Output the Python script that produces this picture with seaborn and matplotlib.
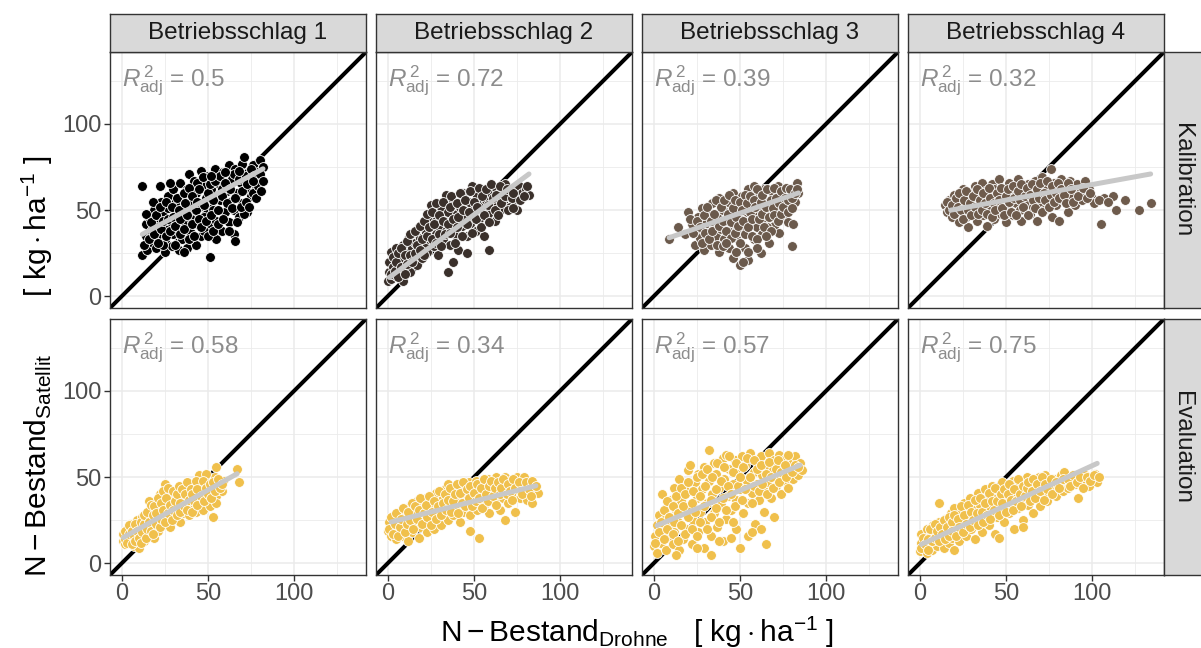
import numpy as np
import pandas as pd
import seaborn as sns
import matplotlib.pyplot as plt
from matplotlib.ticker import FixedLocator

sns.set_theme(style='white')
plt.rcParams['font.family'] = ['Liberation Sans', 'DejaVu Sans']
plt.rcParams['mathtext.fontset'] = 'custom'
plt.rcParams['mathtext.rm'] = 'Liberation Sans'
plt.rcParams['mathtext.it'] = 'Liberation Sans:italic'
plt.rcParams['mathtext.bf'] = 'Liberation Sans:bold'

# ---- data ----------------------------------------------------------------
fields = ['Betriebsschlag 1', 'Betriebsschlag 2', 'Betriebsschlag 3', 'Betriebsschlag 4']
phases = ['Kalibration', 'Evaluation']

r2_kal = ['0.5', '0.72', '0.39', '0.32']
r2_eval = ['0.58', '0.34', '0.57', '0.75']

# regression line end points (x0, y0, x1, y1)
fit_kal = [(12, 36, 82, 74), (1, 11, 82, 71), (9, 34, 84, 60), (18, 50, 134, 71)]
fit_eval = [(1, 15, 67, 52), (2, 24, 86, 45), (2, 22, 85, 57), (1, 11, 103, 58)]

kal_1 = [(12,64),(22,64),(12,24),(15,27),(14,35),(14,42),(16,46),(17,38),(18,31),(19,50),
         (20,28),(21,42),(22,36),(23,55),(24,47),(25,26),(25,32),(26,40),(27,58),(27,51),
         (28,44),(29,29),(30,36),(30,62),(31,54),(32,47),(33,27),(33,40),(34,66),(35,58),
         (35,33),(36,50),(37,43),(38,62),(38,28),(39,71),(40,55),(40,37),(41,48),(42,67),
         (43,30),(43,60),(44,42),(45,52),(46,73),(46,35),(47,64),(48,46),(49,57),(51,23),
         (50,70),(51,40),(52,62),(53,50),(54,74),(55,33),(55,44),(56,66),(57,56),(58,38),
         (59,72),(60,49),(61,61),(62,76),(62,43),(63,55),(64,68),(65,36),(65,50),(66,32),
         (66,74),(67,60),(68,46),(69,66),(70,77),(70,54),(71,81),(72,62),(73,49),(74,70),
         (75,58),(76,76),(77,66),(78,62),(79,72),(80,79),(81,68),(82,75),(71,48),(36,26),
         (20,40),(18,55),(28,66),(24,30),(40,45),(58,62),(48,38),(44,66),
         (13,30),(14,48),(16,33),(17,43),(19,36),(20,47),(21,31),(22,52),(23,39),(24,44),
         (26,35),(26,55),(27,45),(28,38),(29,52),(30,46),(31,30),(31,41),(32,57),(33,50),
         (34,36),(34,45),(36,60),(36,39),(37,54),(38,47),(39,33),(39,63),(41,58),(41,42),
         (42,35),(43,50),(44,55),(45,45),(45,62),(46,40),(47,69),(48,53),(49,44),(50,60),
         (50,35),(51,65),(52,47),(53,56),(53,38),(54,67),(56,50),(56,42),(57,70),(58,58),
         (59,45),(60,66),(61,54),(62,38),(63,62),(64,51),(65,71),(66,57),(67,43),(68,68),
         (69,52),(70,61),(72,70),(72,55),(73,65),(74,52),(75,74),(76,60),(77,70),(78,57),
         (79,64),(80,71),(81,61),(82,67),(76,67),(68,73),(60,72),(52,70)]
kal_2 = [(0,9),(1,14),(1,20),(2,26),(2,10),(3,17),(4,23),(5,12),(5,28),(6,19),
         (7,14),(7,26),(8,22),(9,9),(9,30),(10,17),(11,25),(12,20),(12,33),(13,14),
         (14,28),(15,37),(15,22),(16,31),(17,18),(18,26),(18,40),(19,34),(20,22),(21,30),
         (22,43),(22,37),(23,26),(24,33),(25,53),(25,46),(26,40),(27,29),(28,36),(29,47),
         (29,24),(30,41),(31,52),(32,33),(33,44),(34,59),(34,38),(35,14),(35,49),(36,30),
         (37,43),(38,55),(39,36),(40,48),(41,27),(42,52),(43,41),(44,60),(45,46),(46,25),
         (46,35),(47,55),(48,42),(49,64),(50,50),(51,38),(52,58),(53,45),(54,62),(55,52),
         (56,35),(57,56),(58,48),(59,27),(60,60),(61,53),(62,44),(63,63),(64,57),(65,50),
         (66,61),(67,55),(68,65),(70,58),(71,52),(72,62),(74,56),(75,50),(76,64),(78,60),
         (80,62),(82,59),(38,20),(28,44),
         (2,13),(3,23),(4,15),(5,20),(6,25),(6,11),(8,17),(8,28),(10,24),(10,13),
         (11,32),(11,19),(13,24),(13,36),(14,20),(16,25),(16,38),(17,30),(19,27),(19,41),
         (20,33),(21,24),(21,44),(23,35),(23,48),(24,40),(26,33),(26,49),(27,42),(28,31),
         (28,54),(30,36),(30,47),(31,29),(32,44),(32,55),(33,36),(35,42),(36,52),(36,37),
         (37,58),(38,45),(39,31),(40,54),(40,40),(41,46),(42,60),(43,35),(44,50),(45,56),
         (46,42),(47,49),(48,61),(49,37),(50,55),(51,45),(52,52),(53,63),(54,40),(55,58),
         (56,47),(57,62),(58,53),(59,43),(60,65),(61,57),(62,50),(63,59),(64,47),(65,64),
         (66,54),(68,58),(69,62),(70,50),(72,57),(73,60),(77,56),(79,58),(81,64),(73,51)]
kal_3 = [(9,33),(14,40),(20,49),(18,36),(22,42),(24,30),(25,38),(26,46),(27,34),(28,51),
         (29,27),(30,42),(31,37),(32,48),(33,30),(34,54),(35,41),(36,35),(37,46),(38,57),
         (38,26),(39,39),(40,50),(41,33),(42,44),(43,55),(44,28),(44,38),(45,48),(46,22),
         (46,60),(47,42),(48,34),(49,52),(50,18),(50,45),(51,58),(52,38),(53,28),(54,49),
         (55,62),(55,21),(56,43),(57,54),(58,33),(58,64),(59,47),(60,40),(61,58),(62,25),
         (62,50),(63,36),(64,62),(65,45),(66,55),(67,31),(68,48),(69,60),(70,41),(71,52),
         (72,64),(73,37),(74,56),(75,47),(76,61),(77,52),(78,43),(79,58),(80,29),(81,63),
         (82,55),(83,66),(84,60),(81,42),(66,40),(52,20),
         (21,45),(23,37),(25,44),(27,40),(28,31),(29,47),(30,37),(31,52),(32,33),(33,44),
         (34,38),(35,48),(36,56),(37,30),(38,41),(39,52),(40,44),(40,29),(41,56),(42,38),
         (43,48),(44,59),(45,34),(45,43),(46,51),(47,37),(47,56),(48,46),(49,41),(50,55),
         (50,31),(51,50),(52,44),(53,59),(53,36),(54,54),(55,40),(56,49),(56,58),(57,35),
         (57,45),(58,56),(59,52),(60,62),(60,33),(61,45),(62,55),(63,48),(63,59),(64,40),
         (65,52),(66,62),(67,46),(68,56),(68,38),(69,51),(70,63),(70,47),(71,57),(72,44),
         (73,54),(74,61),(74,48),(75,52),(76,57),(77,63),(78,49),(78,56),(79,62),(80,51),
         (80,57),(82,60),(83,62),(65,35),(60,28),(55,26),(48,26),(42,31)]
kal_4 = [(15,53),(16,49),(17,56),(18,51),(19,46),(20,59),(21,54),(22,48),(23,43),(24,57),
         (25,62),(26,52),(27,46),(28,40),(29,60),(30,55),(31,49),(32,64),(33,44),(34,58),
         (35,52),(36,66),(37,47),(38,61),(39,41),(40,56),(41,50),(42,65),(43,45),(44,60),
         (45,53),(46,68),(47,48),(48,57),(49,63),(50,43),(51,52),(52,66),(53,58),(54,47),
         (55,62),(56,54),(57,68),(58,50),(59,44),(60,60),(62,55),(63,65),(64,48),(65,58),
         (66,52),(67,67),(68,44),(69,61),(70,55),(71,69),(72,50),(74,63),(75,57),(76,74),
         (77,46),(78,66),(79,53),(80,60),(81,44),(82,68),(83,56),(85,63),(86,49),(87,67),
         (88,58),(90,53),(91,65),(93,60),(94,56),(96,67),(98,62),(100,57),(101,54),(105,42),
         (107,57),(112,58),(114,50),(119,56),(127,50),(134,54),(43,62),(27,56),
         (16,55),(17,50),(19,53),(20,48),(21,57),(22,52),(23,60),(24,50),(25,45),(26,56),
         (27,61),(28,50),(29,54),(30,47),(31,58),(32,52),(33,62),(34,48),(35,56),(36,50),
         (37,60),(38,54),(39,48),(40,63),(41,57),(42,46),(43,54),(44,50),(45,60),(46,56),
         (47,63),(48,51),(49,47),(50,58),(51,62),(52,55),(53,49),(54,64),(55,57),(56,47),
         (57,61),(58,56),(59,65),(60,52),(61,58),(62,63),(63,47),(64,59),(65,65),(66,56),
         (67,51),(68,62),(69,57),(70,66),(71,49),(72,60),(73,56),(74,67),(75,52),(76,59),
         (77,64),(78,55),(79,60),(80,66),(81,57),(82,62),(84,59),(85,54),(86,66),(88,62),
         (89,55),(92,58),(95,63),(97,57),(99,60),(104,56),(109,55)]
eval_1 = [(1,13),(1,17),(2,11),(3,15),(3,20),(4,12),(5,18),(5,23),(6,14),(7,21),
          (7,10),(8,17),(9,25),(9,13),(10,20),(10,9),(11,16),(12,27),(12,22),(13,13),
          (14,19),(15,25),(16,36),(16,16),(17,30),(18,22),(19,27),(19,15),(20,33),(21,19),
          (22,25),(22,40),(23,30),(24,22),(25,36),(25,46),(26,27),(27,33),(28,21),(28,41),
          (29,30),(30,37),(31,26),(32,43),(33,32),(34,24),(35,39),(36,29),(36,45),(37,35),
          (38,42),(39,28),(40,38),(41,33),(42,44),(43,30),(44,40),(45,51),(45,35),(46,45),
          (47,31),(48,42),(49,38),(50,47),(51,33),(52,43),(53,27),(54,50),(55,56),(55,39),
          (56,45),(58,42),(59,48),(67,55),(68,47),(49,52),(55,35),
          (2,14),(2,19),(3,12),(4,17),(4,22),(6,19),(6,11),(7,16),(8,13),(8,23),
          (9,19),(10,15),(11,24),(11,12),(12,18),(13,23),(13,28),(14,15),(15,20),(15,30),
          (16,24),(17,19),(17,34),(18,28),(18,17),(19,33),(20,23),(20,29),(21,38),(22,21),
          (23,35),(23,26),(24,31),(24,42),(25,24),(26,38),(27,29),(27,44),(28,34),(29,25),
          (30,42),(30,31),(31,36),(32,28),(32,40),(33,45),(34,35),(34,30),(35,43),(36,33),
          (37,40),(38,31),(38,47),(39,37),(40,43),(41,30),(41,40),(42,36),(43,48),(44,34),
          (44,43),(46,39),(47,48),(48,36),(49,44),(50,40),(51,46),(52,38),(53,47),(54,42),
          (56,49),(57,44),(58,46)]
eval_2 = [(0,19),(1,24),(2,16),(3,21),(4,27),(5,14),(6,19),(7,24),(8,30),(9,16),
          (10,21),(11,27),(12,13),(13,33),(14,18),(15,24),(16,29),(17,36),(18,15),(19,21),
          (20,27),(21,32),(22,38),(23,18),(24,24),(25,30),(26,35),(27,20),(28,41),(29,27),
          (30,33),(31,22),(32,38),(33,29),(34,44),(35,25),(35,46),(36,34),(37,39),(38,28),
          (39,43),(40,32),(41,37),(42,24),(43,45),(44,30),(45,40),(46,35),(47,47),(48,19),
          (48,28),(49,42),(50,37),(51,48),(52,31),(53,15),(53,43),(54,39),(55,47),(56,34),
          (57,44),(58,49),(59,29),(60,40),(61,46),(62,36),(63,50),(64,42),(65,31),(66,47),
          (67,38),(68,50),(68,25),(69,44),(70,35),(71,48),(72,41),(73,46),(74,30),(75,50),
          (76,43),(77,38),(78,47),(79,50),(80,42),(81,37),(82,46),(84,35),(85,44),(87,41),
          (1,20),(2,27),(3,17),(4,23),(5,29),(6,16),(7,21),(8,26),(9,32),(10,18),
          (11,23),(12,30),(13,25),(14,35),(15,20),(16,33),(17,26),(18,31),(19,38),(20,23),
          (21,29),(22,34),(23,27),(24,39),(25,22),(26,30),(27,36),(28,26),(29,33),(30,42),
          (31,28),(32,35),(33,40),(34,31),(35,37),(36,44),(37,30),(38,36),(39,40),(40,46),
          (41,29),(42,41),(43,35),(44,47),(45,33),(46,43),(47,38),(48,45),(49,33),(50,41),
          (51,36),(52,46),(53,38),(54,44),(55,32),(56,49),(57,40),(58,36),(59,45),(60,48),
          (61,39),(62,44),(63,34),(64,47),(65,40),(66,44),(67,49),(69,40),(70,46),(71,42),
          (72,37),(73,49),(74,44),(76,47),(77,42),(78,40),(80,47),(82,43),(83,39),(84,48),
          (86,45)]
eval_3 = [(0,10),(1,16),(2,22),(2,6),(3,28),(4,12),(5,19),(5,40),(6,25),(7,8),
          (7,32),(8,15),(9,21),(10,37),(10,27),(11,11),(12,44),(12,18),(13,31),(14,24),
          (15,8),(15,49),(16,36),(17,14),(18,29),(19,42),(19,20),(20,54),(21,57),(21,33),
          (22,11),(23,25),(24,47),(25,38),(26,18),(26,52),(27,30),(28,43),(29,9),(29,56),
          (30,24),(31,35),(32,66),(32,48),(33,16),(34,40),(35,29),(35,58),(36,52),(37,21),
          (38,44),(39,34),(40,61),(40,13),(41,49),(42,26),(42,63),(43,39),(44,55),(45,31),
          (46,46),(47,60),(48,20),(48,37),(49,52),(50,9),(50,43),(51,62),(52,29),(53,57),
          (54,48),(55,35),(55,16),(56,64),(57,41),(58,53),(59,23),(59,60),(60,46),(61,37),
          (62,62),(63,51),(64,30),(64,42),(65,11),(65,57),(66,47),(67,64),(68,38),(69,54),
          (70,27),(70,60),(71,45),(72,50),(73,63),(74,40),(75,56),(76,48),(77,61),(78,44),
          (79,53),(80,58),(81,49),(82,62),(83,55),(84,51),(85,58),(86,54),(33,5),(13,5),
          (1,12),(3,18),(4,24),(6,14),(6,31),(8,20),(8,36),(9,27),(11,17),(11,33),
          (12,24),(13,39),(14,13),(14,29),(16,22),(16,44),(17,33),(18,17),(18,40),(20,27),
          (20,47),(22,35),(22,20),(23,42),(24,30),(25,50),(25,16),(27,39),(27,24),(28,52),
          (29,33),(30,45),(31,20),(31,55),(33,37),(33,27),(34,50),(36,43),(36,32),(37,58),
          (38,24),(39,48),(40,38),(41,56),(42,31),(43,45),(44,62),(45,40),(46,53),(46,24),
          (47,33),(48,58),(49,45),(50,50),(51,37),(52,56),(53,43),(54,61),(56,50),(57,35),
          (58,60),(58,45),(60,55),(61,42),(62,57),(63,46),(65,52),(66,40),(67,59),(68,50),
          (69,44),(71,55),(72,60),(73,47),(74,53),(76,57),(77,50),(78,63),(80,53),(82,57),
          (84,56),(62,20),(57,18),(45,15),(38,13),(25,9)]
eval_4 = [(0,7),(1,12),(1,17),(2,9),(3,14),(4,6),(4,20),(5,11),(6,16),(7,8),
          (8,22),(8,13),(9,18),(10,10),(11,35),(11,24),(12,15),(13,20),(14,9),(15,26),
          (16,17),(17,12),(18,29),(18,22),(19,15),(20,8),(20,32),(21,25),(22,19),(23,13),
          (24,30),(25,22),(26,35),(27,16),(28,27),(29,38),(30,20),(31,31),(32,14),(33,25),
          (34,41),(35,34),(36,18),(37,28),(38,43),(39,36),(40,22),(41,31),(42,45),(43,38),
          (44,17),(45,27),(46,15),(46,42),(47,33),(48,47),(49,24),(50,38),(51,44),(52,29),
          (53,35),(54,48),(55,20),(56,41),(57,32),(58,46),(59,37),(60,25),(61,43),(62,50),
          (63,34),(64,40),(65,47),(66,29),(67,44),(68,38),(69,50),(70,33),(71,45),(72,41),
          (73,51),(74,36),(75,47),(76,43),(78,49),(79,39),(80,45),(82,51),(83,42),(84,53),
          (85,47),(86,44),(88,50),(90,46),(92,38),(94,48),(96,51),(98,45),(100,49),(102,52),
          (103,47),(60,21),
          (1,9),(2,15),(3,11),(5,14),(5,8),(6,20),(7,13),(9,15),(9,23),(10,19),
          (11,13),(12,21),(13,17),(14,25),(15,14),(16,21),(17,27),(17,16),(19,24),(19,19),
          (20,28),(21,16),(22,26),(23,21),(24,33),(25,18),(26,28),(27,23),(28,34),(29,21),
          (30,30),(31,25),(32,37),(33,29),(34,22),(35,38),(36,30),(37,24),(38,35),(39,28),
          (40,41),(41,26),(42,36),(43,31),(44,44),(45,36),(46,28),(47,40),(48,35),(49,43),
          (50,30),(51,40),(52,46),(53,37),(54,31),(55,43),(56,36),(57,49),(58,40),(59,33),
          (60,45),(61,39),(62,44),(63,47),(64,36),(65,42),(66,49),(67,38),(68,46),(70,42),
          (71,50),(72,37),(73,46),(74,43),(76,49),(77,40),(79,47),(81,44),(83,49),(86,49),
          (87,45),(89,51),(91,47),(93,50),(95,44),(97,50),(99,48),(101,51),(104,50)]

kal_colors = ['#000000', '#3a302b', '#6b5a4c', '#6e5b4c']
eval_color = '#f0c04c'

points = {('Kalibration', 0): kal_1, ('Kalibration', 1): kal_2,
          ('Kalibration', 2): kal_3, ('Kalibration', 3): kal_4,
          ('Evaluation', 0): eval_1, ('Evaluation', 1): eval_2,
          ('Evaluation', 2): eval_3, ('Evaluation', 3): eval_4}

# ---- figure ------------------------------------------------------------------
W, H = 1201, 648
fig = plt.figure(figsize=(W / 100, H / 100), dpi=100)

def px_axes(left, top, width, height):
    return fig.add_axes([left / W, 1 - (top + height) / H, width / W, height / H])

def strip(ax):
    ax.set_facecolor('#d9d9d9')
    ax.set_xticks([])
    ax.set_yticks([])
    for sp in ax.spines.values():
        sp.set_color('#333333')
        sp.set_linewidth(1.0)

lefts = [110, 376, 642, 908]
tops = [52, 319]
size = 256
lim = (-6.75, 141.75)

for r, phase in enumerate(phases):
    for c in range(4):
        ax = px_axes(lefts[c], tops[r], size, size)
        df = pd.DataFrame(points[(phase, c)], columns=['drohne', 'satellit'])
        ax.axline((0, 0), slope=1, color='black', lw=2.9, zorder=1)
        col = kal_colors[c] if phase == 'Kalibration' else eval_color
        sns.scatterplot(data=df, x='drohne', y='satellit', color=col, s=50,
                        edgecolor='white', linewidth=0.6, ax=ax, zorder=2)
        fit = (fit_kal if phase == 'Kalibration' else fit_eval)[c]
        sns.lineplot(x=[fit[0], fit[2]], y=[fit[1], fit[3]], color='#c8c8c8',
                     lw=3.6, ax=ax, zorder=3)
        r2 = (r2_kal if phase == 'Kalibration' else r2_eval)[c]
        ax.text(0, 125, r'$R_{\mathrm{adj}}^{\,2}$ = ' + r2, color='#8c8c8c',
                fontsize=17.5, ha='left', va='center')
        ax.set_xlim(lim)
        ax.set_ylim(lim)
        ax.xaxis.set_major_locator(FixedLocator([0, 50, 100]))
        ax.yaxis.set_major_locator(FixedLocator([0, 50, 100]))
        ax.xaxis.set_minor_locator(FixedLocator([25, 75, 125]))
        ax.yaxis.set_minor_locator(FixedLocator([25, 75, 125]))
        ax.grid(True, which='major', color='#ebebeb', lw=1.1)
        ax.grid(True, which='minor', color='#ebebeb', lw=0.6)
        ax.set_axisbelow(True)
        for sp in ax.spines.values():
            sp.set_color('#333333')
            sp.set_linewidth(1.0)
        ax.set_xlabel('')
        ax.set_ylabel('')
        ax.tick_params(which='minor', length=0)
        ax.tick_params(which='major', length=4, width=1, color='#333333',
                       labelsize=17, labelcolor='#4d4d4d', pad=2,
                       bottom=(r == 1), labelbottom=(r == 1),
                       left=(c == 0), labelleft=(c == 0))
        if r == 0:
            sx = px_axes(lefts[c], 14, size, 38)
            strip(sx)
            sx.text(0.5, 0.5, fields[c], ha='center', va='center',
                    fontsize=17.5, color='#1a1a1a', transform=sx.transAxes)
        if c == 3:
            sx = px_axes(lefts[c] + size, tops[r], 40, size)
            strip(sx)
            sx.text(0.45, 0.5, phase, ha='center', va='center', rotation=-90,
                    fontsize=17.5, color='#1a1a1a', transform=sx.transAxes)

fig.text(637 / W, 1 - 632 / H,
         r'$\mathrm{N-Bestand}_{\mathrm{Drohne}}\ \ \ [\ \mathrm{kg}\cdot\mathrm{ha}^{-1}\ ]$',
         ha='center', va='center', fontsize=21.5, color='black')
fig.text(37 / W, 1 - 366 / H,
         r'$\mathrm{N-Bestand}_{\mathrm{Satellit}}\qquad\ [\ \mathrm{kg}\cdot\mathrm{ha}^{-1}\ ]$',
         ha='center', va='center', fontsize=21.5, color='black', rotation=90)

fig.savefig('out.png', dpi=100, facecolor='white')
